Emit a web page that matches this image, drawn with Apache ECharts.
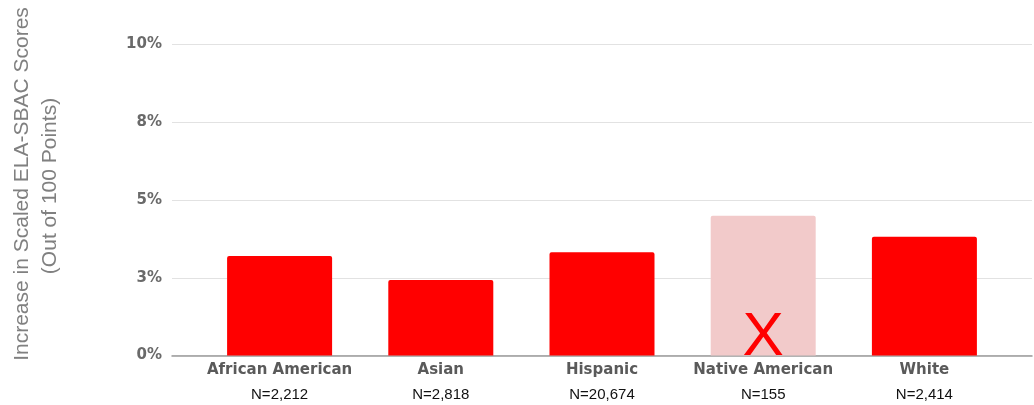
<!DOCTYPE html>
<html>
<head>
<meta charset="utf-8">
<script src="https://cdn.jsdelivr.net/npm/echarts@6/dist/echarts.min.js"></script>
<style>
  html, body { margin: 0; padding: 0; background: #fff; }
  #chart { width: 1034px; height: 405px; }
</style>
</head>
<body>
<div id="chart"></div>
<script>
// values (percent increase)
var categories = ['African American', 'Asian', 'Hispanic', 'Native American', 'White'];
var sampleSizes = ['N=2,212', 'N=2,818', 'N=20,674', 'N=155', 'N=2,414'];
var increases = [3.20, 2.43, 3.32, 4.49, 3.82];
var flagged = [false, false, false, true, false];   // small sample, crossed out
var yTicks = [0, 2.5, 5, 7.5, 10];

var chart = echarts.init(document.getElementById('chart'));

var barData = increases.map(function (v, i) {
  if (!flagged[i]) return v;
  return {
    value: v,
    itemStyle: { color: '#f2caca' },
    label: {
      show: true,
      position: 'insideBottom',
      distance: 0,
      formatter: 'X',
      fontFamily: '"Liberation Sans Narrow", "Liberation Sans", Arial, sans-serif',
      fontSize: 62,
      lineHeight: 62,
      color: '#ff0000',
      offset: [0, 13]
    }
  };
});

var option = {
  backgroundColor: '#fff',
  animation: false,
  grid: [
    // gridlines + y labels
    { left: 172, right: 2, top: 44.5, bottom: 49.5 },
    // bars
    { left: 199, right: 29, top: 44.5, bottom: 49.5 }
  ],
  xAxis: [
    {
      gridIndex: 0, type: 'value', min: 0, max: 1,
      axisLine: { show: true, onZero: false, lineStyle: { color: '#9a9a9a', width: 1.5 } },
      axisTick: { show: false }, axisLabel: { show: false }, splitLine: { show: false }
    },
    {
      gridIndex: 1, type: 'category', data: categories,
      axisLine: { show: false }, axisTick: { show: false },
      axisLabel: {
        interval: 0,
        margin: 5,
        formatter: function (name, idx) {
          return '{a|' + name + '}\n{b|' + sampleSizes[idx] + '}';
        },
        rich: {
          a: { fontFamily: '"DejaVu Sans", sans-serif', fontWeight: 'bold', fontSize: 15, color: '#5a5a5a', lineHeight: 20 },
          b: { fontFamily: '"Liberation Sans", Arial, sans-serif', fontSize: 15, color: '#111', lineHeight: 28 }
        }
      }
    }
  ],
  yAxis: [
    {
      gridIndex: 0, type: 'value', min: 0, max: 10, interval: 2.5,
      axisLine: { show: false }, axisTick: { show: false },
      axisLabel: {
        margin: 10,
        fontFamily: '"DejaVu Sans", sans-serif', fontWeight: 'bold', fontSize: 15, color: '#6a6a6a',
        formatter: function (v) { return Math.round(v) + '%'; }
      },
      splitLine: { show: true, lineStyle: { color: '#e2e2e2', width: 1 } }
    },
    {
      gridIndex: 1, type: 'value', min: 0, max: 10, show: false
    }
  ],
  graphic: [
    {
      type: 'text', x: 22, y: 184, rotation: Math.PI / 2,
      style: {
        text: 'Increase in Scaled ELA-SBAC Scores',
        fontFamily: '"Liberation Sans", Arial, sans-serif', fontSize: 21, fill: '#808080',
        align: 'center', verticalAlign: 'middle'
      }
    },
    {
      type: 'text', x: 50, y: 186, rotation: Math.PI / 2,
      style: {
        text: '(Out of 100 Points)',
        fontFamily: '"Liberation Sans", Arial, sans-serif', fontSize: 21, fill: '#808080',
        align: 'center', verticalAlign: 'middle'
      }
    }
  ],
  series: [
    {
      type: 'bar',
      xAxisIndex: 1, yAxisIndex: 1,
      barWidth: 105,
      itemStyle: { color: '#ff0000', borderRadius: [2, 2, 0, 0] },
      data: barData
    }
  ]
};

chart.setOption(option);
</script>
</body>
</html>
